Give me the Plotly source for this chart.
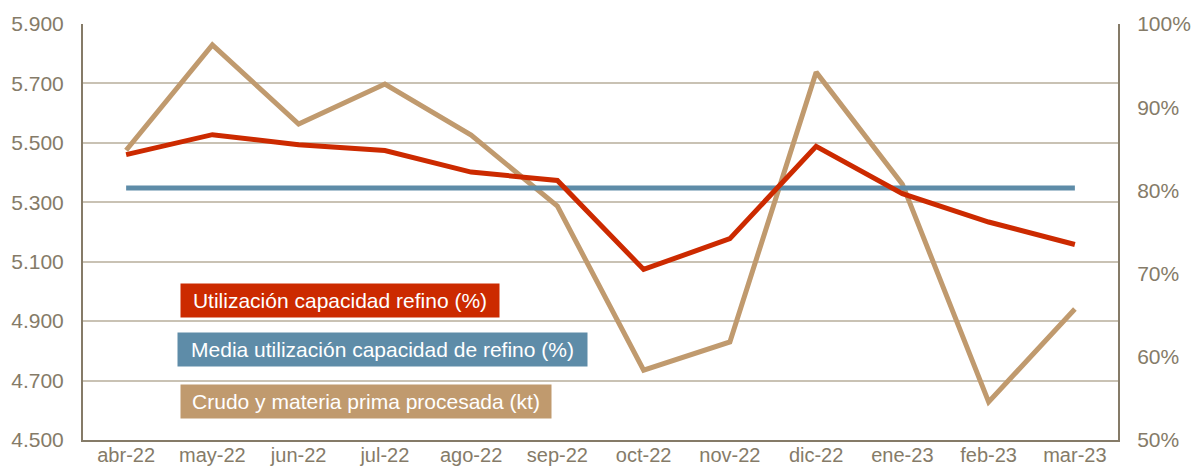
import plotly.graph_objects as go

# Monthly categories
meses = ["abr-22", "may-22", "jun-22", "jul-22", "ago-22", "sep-22",
         "oct-22", "nov-22", "dic-22", "ene-23", "feb-23", "mar-23"]

# Crude and feedstock processed (kt) - left axis
crudo_kt = [5475, 5830, 5563, 5698, 5526, 5287, 4735, 4830, 5738, 5361, 4628, 4941]

# Refining capacity utilisation (%) - right axis
utilizacion_pct = [84.3, 86.7, 85.5, 84.8, 82.2, 81.2, 70.5, 74.2, 85.3, 79.6, 76.2, 73.5]

# Average utilisation (%) - right axis
media_pct = [80.3] * len(meses)

TICK = "#857B68"
AXIS = "#857B68"
GRID = "#C9C2B4"
TAN = "#C09A6E"
RED = "#CC2A00"
BLUE = "#5E8CA8"
FONT = "Liberation Sans, Arial, sans-serif"

fig = go.Figure()

fig.add_trace(go.Scatter(
    x=meses, y=crudo_kt, mode="lines", name="Crudo y materia prima procesada (kt)",
    line=dict(color=TAN, width=5), yaxis="y"))
fig.add_trace(go.Scatter(
    x=meses, y=media_pct, mode="lines", name="Media utilización capacidad de refino (%)",
    line=dict(color=BLUE, width=5), yaxis="y2"))
fig.add_trace(go.Scatter(
    x=meses, y=utilizacion_pct, mode="lines", name="Utilización capacidad refino (%)",
    line=dict(color=RED, width=5), yaxis="y2"))

# Plot-area geometry in pixels, used to place the label boxes
W, H = 1192, 468
ML, MR, MT, MB = 83, 74, 24, 28
PW, PH = W - ML - MR, H - MT - MB


def px_x(x):
    return (x - ML) / PW


def px_y(y):
    return (H - MB - y) / PH


labels = [
    ("Utilización capacidad refino (%)", RED, 180, 284, 318, 33),
    ("Media utilización capacidad de refino (%)", BLUE, 177, 333, 409, 33),
    ("Crudo y materia prima procesada (kt)", TAN, 180, 385, 370, 33),
]
for text, color, x0, y0, w, h in labels:
    fig.add_annotation(
        text=text, xref="paper", yref="paper",
        x=px_x(x0), y=px_y(y0 + h / 2), xanchor="left", yanchor="middle",
        showarrow=False, bgcolor=color, width=w, height=h, borderpad=0,
        align="center", valign="middle",
        font=dict(family=FONT, size=21, color="white"))

fig.update_layout(
    width=W, height=H,
    margin=dict(l=ML, r=MR, t=MT, b=MB, pad=0, autoexpand=False),
    paper_bgcolor="white", plot_bgcolor="white",
    showlegend=False,
    separators=",.",
    font=dict(family=FONT, size=21, color=TICK),
    xaxis=dict(
        type="category", range=[-0.5, 11.5], automargin=False,
        showline=True, linecolor=AXIS, linewidth=2,
        showgrid=False, ticks="", ticklabelstandoff=-4,
        tickfont=dict(size=20, color=TICK)),
    yaxis=dict(
        range=[4500, 5900], dtick=200, tick0=4500, tickformat=",d",
        automargin=False,
        showline=True, linecolor=AXIS, linewidth=2,
        showgrid=True, gridcolor=GRID, gridwidth=1.5,
        zeroline=False, ticks="", ticklabelstandoff=13,
        tickfont=dict(size=21, color=TICK)),
    yaxis2=dict(
        range=[50, 100], dtick=10, ticksuffix="%", overlaying="y", side="right",
        automargin=False,
        showline=True, linecolor=AXIS, linewidth=2,
        showgrid=False, zeroline=False, ticks="", ticklabelstandoff=13,
        tickfont=dict(size=21, color=TICK)),
)

fig.write_html("out.html")
